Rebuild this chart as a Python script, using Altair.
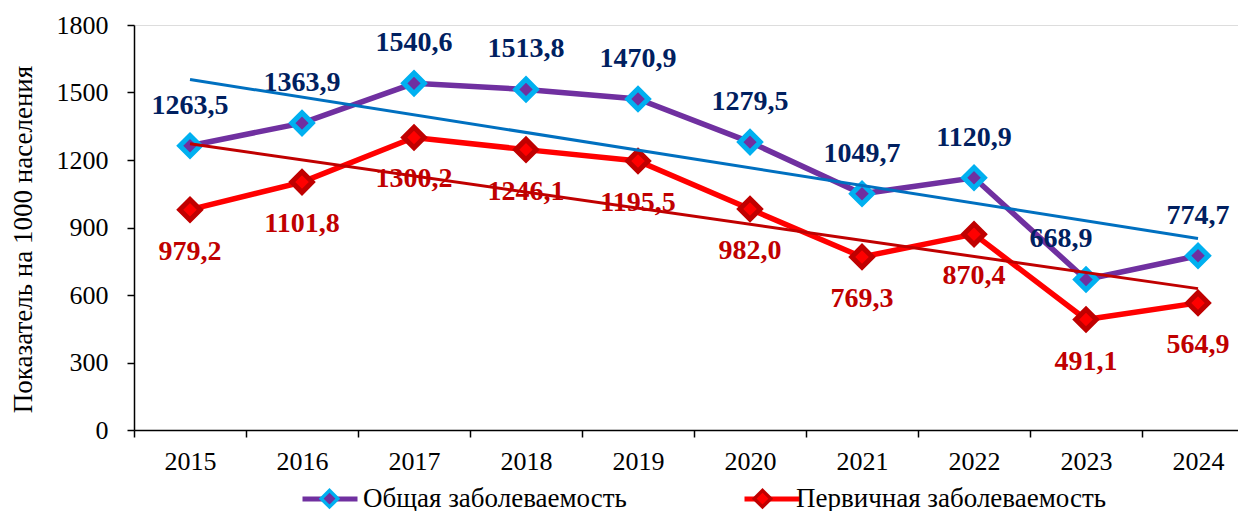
import altair as alt
import pandas as pd

years = [2015, 2016, 2017, 2018, 2019, 2020, 2021, 2022, 2023, 2024]
general = [1263.5, 1363.9, 1540.6, 1513.8, 1470.9, 1279.5, 1049.7, 1120.9, 668.9, 774.7]
primary = [979.2, 1101.8, 1300.2, 1246.1, 1195.5, 982.0, 769.3, 870.4, 491.1, 564.9]
series_names = ["Общая заболеваемость", "Первичная заболеваемость"]
y_ticks = [0, 300, 600, 900, 1200, 1500, 1800]
x_bounds = [y - 0.5 for y in years]

FONT = "Liberation Serif"
PURPLE = "#7030A0"
CYAN = "#00B0F0"
RED = "#FF0000"
DARKRED = "#C00000"
NAVY = "#002060"
TREND_BLUE = "#0070C0"

df = pd.DataFrame({
    "year": years * 2,
    "value": general + primary,
    "series": [series_names[0]] * 10 + [series_names[1]] * 10,
})
df["series_p"] = df["series"]

x_enc = alt.X(
    "year:Q",
    scale=alt.Scale(domain=[2014.5, 2024.357], nice=False, zero=False),
    axis=alt.Axis(
        values=x_bounds + years,
        labelExpr="datum.value % 1 === 0 ? toString(datum.value) : ''",
        tickOpacity={"condition": {"test": "datum.value % 1 === 0", "value": 0}, "value": 1},
        title=None, grid=False, labelFont=FONT, labelFontSize=26, labelColor="black",
        tickSize=7, tickColor="black", domainColor="black", domainWidth=1.5, tickWidth=1.5,
        labelPadding=11, labelOverlap=False, labelFlush=False,
    ),
)
y_enc = alt.Y(
    "value:Q",
    scale=alt.Scale(domain=[0, 1800], nice=False),
    axis=alt.Axis(
        values=y_ticks, format="d", title="Показатель на 1000 населения", titleFont=FONT,
        titleFontSize=27, titleFontWeight="normal", titleColor="black", titlePadding=19,
        titleY=214,
        labelFont=FONT, labelFontSize=26, labelColor="black", labelPadding=19,
        tickSize=7, tickColor="black", domainColor="black", domainWidth=1.5, tickWidth=1.5,
        grid=False,
    ),
)

base = alt.Chart(df)

LEG_X = 166
LEG_Y = 444

leg_common = dict(
    title=None, orient="none", legendX=LEG_X, legendY=LEG_Y, direction="horizontal",
    symbolSize=3025, labelFont=FONT, labelFontSize=27, labelOffset=4, columnPadding=106,
    padding=0, labelLimit=500,
)

lines = base.mark_line(strokeWidth=5.5).encode(
    x=x_enc, y=y_enc,
    color=alt.Color(
        "series:N",
        scale=alt.Scale(domain=series_names, range=[PURPLE, RED]),
        legend=alt.Legend(symbolType="M-1,0L1,0", symbolStrokeWidth=5, labelOpacity=0, **leg_common),
    ),
)

diamond_leg = alt.Legend(
    symbolType="M0,-0.3L0.3,0L0,0.3L-0.3,0Z", symbolStrokeWidth=3.5,
    labelColor="black", symbolOpacity=1, **leg_common,
)

points = base.mark_point(shape="diamond", filled=True, size=420, strokeWidth=5, opacity=1).encode(
    x=x_enc, y=y_enc,
    fill=alt.Fill("series_p:N", scale=alt.Scale(domain=series_names, range=[PURPLE, RED]), legend=diamond_leg),
    stroke=alt.Stroke("series_p:N", scale=alt.Scale(domain=series_names, range=[CYAN, DARKRED]), legend=diamond_leg),
)

lbl = base.transform_calculate(lbl="replace(format(datum.value, '.1f'), '.', ',')")
TXT = dict(fontSize=28, fontWeight="bold", font=FONT)

gen_text = lbl.transform_filter(
    (alt.datum.series == series_names[0]) & (alt.datum.year != 2023)
).mark_text(dy=-40, color=NAVY, **TXT).encode(x=x_enc, y=y_enc, text="lbl:N")
gen_text_2023 = lbl.transform_filter(
    (alt.datum.series == series_names[0]) & (alt.datum.year == 2023)
).mark_text(dy=-40, dx=-25, color=NAVY, **TXT).encode(x=x_enc, y=y_enc, text="lbl:N")
prim_text = lbl.transform_filter(
    alt.datum.series == series_names[1]
).mark_text(dy=42, color=DARKRED, **TXT).encode(x=x_enc, y=y_enc, text="lbl:N")

trend_gen = base.transform_filter(alt.datum.series == series_names[0]).transform_regression(
    "year", "value"
).mark_line(color=TREND_BLUE, strokeWidth=3).encode(x=x_enc, y=y_enc)
trend_prim = base.transform_filter(alt.datum.series == series_names[1]).transform_regression(
    "year", "value"
).mark_line(color=DARKRED, strokeWidth=3).encode(x=x_enc, y=y_enc)

chart = alt.layer(
    lines, points, gen_text, gen_text_2023, prim_text, trend_gen, trend_prim
).resolve_scale(
    color="independent", fill="independent", stroke="independent"
).properties(
    width=1104, height=405,
    autosize=alt.AutoSizeParams(type="none"),
    padding={"left": 126, "top": 17, "right": 0, "bottom": 81},
).configure_view(stroke=None).configure(background="white")

chart.save("out.html", embed_options={"renderer": "svg", "actions": False})
